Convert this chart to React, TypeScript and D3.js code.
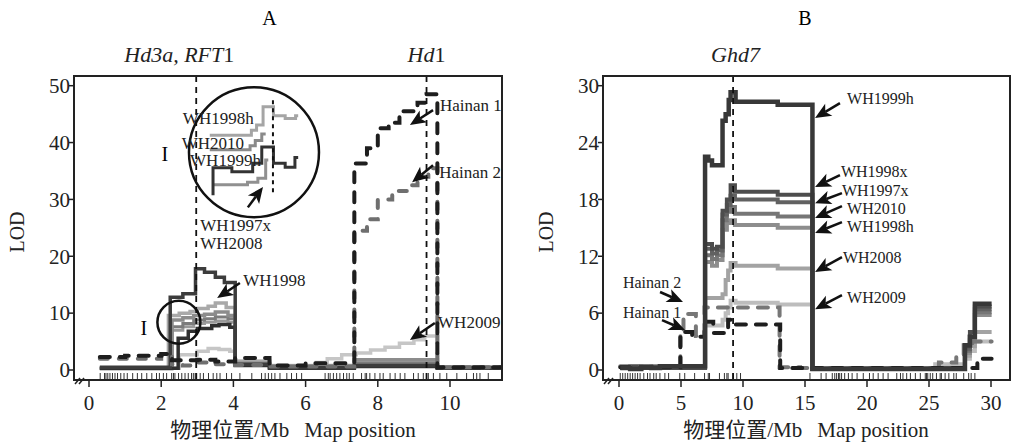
import React from "react";
import * as d3 from "d3";

const SERIF = "'Liberation Serif', 'Times New Roman', serif";
const CJK = "'Noto Sans CJK SC', sans-serif";

// ---------- panel A ----------
const aTicksX = [0, 2, 4, 6, 8, 10];
const aTicksY = [0, 10, 20, 30, 40, 50];
const aGenes = [2.97, 9.35];
const aMarkers = [
  0.31, 0.43, 0.47, 0.52, 0.58, 0.65, 0.72, 0.79, 0.88, 0.97, 1.06, 1.21, 1.34, 1.46, 1.6, 1.74,
  1.87, 1.95, 2.06, 2.15, 2.29, 2.34, 2.38, 2.48, 2.57, 2.66, 2.75, 2.84, 2.89, 2.94, 2.98, 3.08,
  3.17, 3.31, 3.44, 3.54, 3.63, 3.81, 3.95, 4.18, 4.51, 4.78, 4.88, 4.97, 5.06, 5.15, 5.29, 5.48,
  5.61, 5.75, 5.89, 6.54, 6.63, 6.68, 6.77, 6.86, 6.95, 7.05, 7.14, 7.21, 7.32, 7.55, 7.65, 7.69,
  7.78, 7.92, 8.06, 8.15, 8.34, 8.48, 8.62, 8.75, 8.99, 9.12, 9.26, 9.4, 9.54, 9.72, 9.91, 10.19,
  10.46, 10.65, 10.74, 10.83, 11.06,
];

const aWH1998X = [0.3, 2.25, 2.6, 2.95, 3.2, 3.5, 3.75, 4.05, 5.0, 7.35, 9.65, 11.6];
const aWH1998Y = [0.5, 12.8, 13.4, 17.8, 17.2, 16.3, 15.4, 1.0, 0.4, 0.8, 0.4, 0.4];
const aWH1998hX = [0.3, 2.2, 2.5, 2.8, 3.0, 3.3, 3.5, 3.8, 4.05, 5.0, 6.5, 7.35, 9.65, 11.6];
const aWH1998hY = [0.3, 9.6, 10.0, 10.3, 10.8, 11.2, 11.8, 11.0, 1.5, 0.7, 0.8, 1.5, 0.5, 0.5];
const aGrayX = [0.3, 2.3, 2.6, 2.9, 3.2, 3.5, 3.85, 4.05, 5.0, 7.35, 9.65, 11.6];
const aWH2010Y = [0.3, 8.8, 9.2, 9.6, 9.8, 10.2, 9.6, 1.2, 0.5, 1.8, 0.5, 0.5];
const aWH1997xY = [0.2, 7.6, 8.2, 8.8, 9.0, 9.3, 9.0, 1.0, 0.4, 1.2, 0.4, 0.4];
const aWH2008Y = [0.2, 7.0, 7.6, 8.2, 8.4, 8.6, 8.4, 0.9, 0.4, 1.0, 0.4, 0.4];
const aWH1999hX = [0.3, 2.47, 2.75, 3.0, 3.4, 3.6, 3.9, 4.05, 5.0, 7.35, 9.65, 11.6];
const aWH1999hY = [0.3, 5.6, 6.8, 7.3, 7.8, 8.0, 7.5, 0.8, 0.3, 0.6, 0.3, 0.3];
const aWH2009X = [0.3, 2.5, 3.0, 3.3, 3.6, 3.9, 4.05, 5.0, 6.3, 6.6, 7.0, 7.4, 7.8, 8.2, 8.6, 9.0, 9.3, 9.65, 11.6];
const aWH2009Y = [0.3, 2.7, 3.3, 3.8, 3.6, 3.3, 1.6, 0.8, 1.3, 2.0, 2.7, 3.0, 3.5, 4.0, 4.7, 5.3, 6.0, 0.5, 0.5];
const aHainan1X = [0.3, 1.0, 2.0, 2.3, 3.0, 3.5, 4.05, 5.0, 6.0, 7.35, 7.7, 8.0, 8.3, 8.6, 9.1, 9.35, 9.65, 11.6];
const aHainan1Y = [2.3, 2.5, 2.8, 1.7, 1.8, 1.5, 2.1, 0.8, 1.2, 36.3, 39.0, 42.5, 43.5, 45.5, 47.0, 48.5, 0.5, 0.5];
const aHainan2X = [0.3, 2.0, 2.3, 2.6, 3.0, 3.5, 4.05, 5.0, 7.35, 7.7, 8.0, 8.4, 8.9, 9.1, 9.4, 9.65, 11.6];
const aHainan2Y = [2.0, 2.5, 1.0, 0.8, 1.3, 1.0, 0.9, 0.6, 24.5, 26.5, 30.0, 31.5, 32.5, 34.0, 35.5, 0.5, 0.5];

// inset (zoom of region I), in its own 0..100 units
const insetLightX = [16, 48, 52, 57, 65, 74, 82, 84];
const insetLightY = [63, 67, 71, 85, 78, 76, 78, 78];
const insetMidX = [16, 47, 51, 56, 59];
const insetMidY = [52, 55, 59, 64, 64];
const insetDarkX = [18.5, 18.5, 33, 49, 56, 65, 74, 81.5, 84];
const insetDarkY = [17, 38, 35, 41.5, 54, 41.5, 38.5, 46, 46];
const insetLowX = [18.5, 45, 53, 59, 61];
const insetLowY = [25, 27, 30, 44, 44];

const aLabels = [
  { text: "WH1998h", x: 2.6, y: 44.3 },
  { text: "WH2010", x: 2.57, y: 39.9 },
  { text: "WH1999h", x: 2.8, y: 36.9 },
  { text: "WH1997x", x: 3.08, y: 25.5 },
  { text: "WH2008", x: 3.08, y: 22.3 },
  { text: "WH1998", x: 4.27, y: 15.8 },
  { text: "Hainan 1", x: 9.72, y: 46.6 },
  { text: "Hainan 2", x: 9.7, y: 34.9 },
  { text: "WH2009", x: 9.67, y: 8.4 },
];
const aArrows = [
  [4.18, 15.3, 3.55, 12.65],
  [9.53, 45.7, 8.89, 43.1],
  [9.53, 36.0, 8.95, 33.0],
  [9.58, 8.26, 8.89, 5.27],
  [4.4, 28.6, 4.82, 32.2],
];

// ---------- panel B ----------
const bTicksX = [0, 5, 10, 15, 20, 25, 30];
const bTicksY = [0, 6, 12, 18, 24, 30];
const bGenes = [9.2];
const bMarkers = [
  0.1, 0.3, 0.5, 0.7, 0.9, 1.1, 1.3, 1.5, 1.7, 2.0, 2.3, 2.5, 2.8, 3.0, 3.3, 3.7, 4.0, 4.9, 5.3,
  6.1, 6.9, 7.2, 7.3, 8.1, 8.5, 8.7, 8.8, 9.2, 9.5, 9.8, 15.4, 16.3, 16.7, 17.2, 17.4, 17.55, 17.7,
  17.8, 17.95, 18.2, 18.5, 18.8, 19.2, 19.7, 20.2, 20.5, 20.9, 21.3, 21.7, 22.4, 22.7, 22.9, 23.2,
  23.5, 23.9, 24.3, 24.7, 24.8, 24.9, 25.1, 25.3, 25.6, 25.9, 26.0, 26.3, 26.6, 27.0, 27.2, 27.8,
  28.2, 28.4, 28.7,
];

const bWH1999hX = [0.1, 0.9, 1.8, 2.6, 3.3, 6.94, 7.2, 7.5, 8.35, 8.6, 8.85, 9.0, 9.4, 12.8, 15.6, 16.5, 25.5, 27.9, 28.3, 28.7, 30.05];
const bWH1999hY = [0.2, 0.1, 0.3, 0.2, 0.4, 22.5, 22.1, 21.6, 26.3, 27.0, 28.5, 29.3, 28.3, 28.0, 0.1, 0.1, 0.1, 2.6, 3.5, 7.0, 7.0];
const bGrayX = [0.1, 0.9, 1.8, 2.6, 3.3, 6.94, 7.5, 7.9, 8.35, 8.7, 9.0, 9.35, 12.8, 15.6, 16.5, 25.5, 27.9, 28.3, 28.7, 30.05];
const bWH1998xY = [0.2, 0.4, 0.2, 0.3, 0.2, 13.3, 12.8, 13.0, 16.8, 18.0, 19.5, 18.8, 18.5, 0.1, 0.1, 0.2, 2.5, 4.0, 6.7, 6.7];
const bWH1997xY = [0.2, 0.3, 0.4, 0.2, 0.3, 12.8, 12.3, 12.6, 16.4, 17.4, 18.4, 18.0, 17.7, 0.1, 0.2, 0.1, 2.2, 3.5, 6.4, 6.4];
const bWH2010Y = [0.2, 0.2, 0.3, 0.4, 0.2, 12.1, 11.7, 12.1, 15.8, 16.7, 17.2, 16.5, 16.2, 0.1, 0.1, 0.2, 2.0, 3.2, 6.1, 6.1];
const bWH1998hY = [0.3, 0.2, 0.3, 0.2, 0.4, 11.4, 11.0, 11.6, 14.8, 15.5, 15.8, 15.3, 15.0, 0.1, 0.2, 0.1, 1.8, 3.0, 5.8, 5.8];
const bLowX = [0.1, 0.9, 1.8, 2.6, 3.3, 6.94, 8.35, 8.6, 8.8, 9.0, 9.4, 12.8, 15.6, 16.5, 25.5, 27.9, 28.3, 28.7, 30.05];
const bWH2008Y = [0.2, 0.3, 0.2, 0.3, 0.2, 7.6, 8.0, 9.5, 10.5, 11.3, 11.0, 10.7, 0.1, 0.2, 0.1, 1.5, 2.5, 4.0, 4.0];
const bWH2009Y = [0.2, 0.2, 0.3, 0.2, 0.3, 4.7, 5.3, 6.0, 6.6, 7.3, 7.1, 6.9, 0.1, 0.1, 0.6, 1.2, 2.0, 3.0, 3.0];
const bHainan1X = [0.1, 4.95, 5.9, 6.9, 7.6, 8.8, 9.4, 13.0, 14.6, 28.9, 30.05];
const bHainan1Y = [0.3, 4.0, 3.5, 5.1, 3.9, 5.3, 4.8, 0.2, 0.2, 1.2, 1.2];
const bHainan2X = [0.1, 4.95, 5.2, 6.2, 6.9, 9.2, 12.95, 14.6, 25.8, 27.2, 27.8, 28.5, 30.05];
const bHainan2Y = [0.4, 4.0, 5.9, 3.6, 6.6, 6.6, 0.3, 0.2, 0.8, 1.4, 2.6, 3.0, 3.0];

const bLabels = [
  { text: "WH1999h", x: 18.39, y: 28.69 },
  { text: "WH1998x", x: 17.9, y: 20.95 },
  { text: "WH1997x", x: 17.98, y: 19.0 },
  { text: "WH2010", x: 18.39, y: 17.08 },
  { text: "WH1998h", x: 18.39, y: 15.15 },
  { text: "WH2008", x: 18.06, y: 11.92 },
  { text: "WH2009", x: 18.39, y: 7.7 },
  { text: "Hainan 2", x: 0.32, y: 9.28 },
  { text: "Hainan 1", x: 0.32, y: 6.12 },
];
const bArrows = [
  [17.82, 28.16, 15.81, 26.58],
  [17.82, 20.57, 15.81, 19.3],
  [17.98, 18.67, 15.81, 17.6],
  [17.98, 17.3, 15.81, 16.03],
  [17.98, 15.61, 15.81, 14.45],
  [17.98, 11.92, 15.81, 10.34],
  [17.98, 7.91, 15.81, 6.4],
  [3.31, 8.23, 5.16, 7.17],
  [3.47, 5.27, 5.32, 4.22],
];

const zip = (xs: number[], ys: number[]) => xs.map((v, i) => [v, ys[i]] as [number, number]);

const seriesA = [
  { d: zip(aWH2009X, aWH2009Y), color: "#c6c6c6", w: 3.5 },
  { d: zip(aWH1998hX, aWH1998hY), color: "#a9a9a9", w: 3.5 },
  { d: zip(aGrayX, aWH2008Y), color: "#9a9a9a", w: 3 },
  { d: zip(aGrayX, aWH1997xY), color: "#7c7c7c", w: 3 },
  { d: zip(aGrayX, aWH2010Y), color: "#8c8c8c", w: 3.5 },
  { d: zip(aWH1999hX, aWH1999hY), color: "#303030", w: 3.5 },
  { d: zip(aWH1998X, aWH1998Y), color: "#3c3c3c", w: 3.5 },
  { d: zip(aHainan2X, aHainan2Y), color: "#6f6f6f", w: 4, dash: "8,11" },
  { d: zip(aHainan1X, aHainan1Y), color: "#1e1e1e", w: 4, dash: "10,10" },
];
const seriesB = [
  { d: zip(bLowX, bWH2009Y), color: "#bdbdbd", w: 4 },
  { d: zip(bLowX, bWH2008Y), color: "#a3a3a3", w: 4 },
  { d: zip(bGrayX, bWH1998hY), color: "#8d8d8d", w: 4 },
  { d: zip(bGrayX, bWH2010Y), color: "#767676", w: 4 },
  { d: zip(bGrayX, bWH1997xY), color: "#616161", w: 4 },
  { d: zip(bGrayX, bWH1998xY), color: "#4d4d4d", w: 4 },
  { d: zip(bHainan2X, bHainan2Y), color: "#777777", w: 4, dash: "10,10" },
  { d: zip(bHainan1X, bHainan1Y), color: "#1e1e1e", w: 4, dash: "10,10" },
  { d: zip(bWH1999hX, bWH1999hY), color: "#383838", w: 4.5 },
];

function Arrow({ x1, y1, x2, y2 }: { x1: number; y1: number; x2: number; y2: number }) {
  const len = Math.hypot(x2 - x1, y2 - y1);
  const ux = (x2 - x1) / len, uy = (y2 - y1) / len;
  const hl = 16, hw = 7;
  const bx = x2 - ux * hl, by = y2 - uy * hl;
  const nx = bx + ux * 4, ny = by + uy * 4;
  const px = -uy, py = ux;
  return (
    <g>
      <line x1={x1} y1={y1} x2={nx} y2={ny} stroke="#111" strokeWidth={2.5} />
      <polygon
        points={`${x2},${y2} ${bx + px * hw},${by + py * hw} ${nx},${ny} ${bx - px * hw},${by - py * hw}`}
        fill="#111"
      />
    </g>
  );
}

type PanelProps = {
  id: string;
  box: { l: number; r: number; t: number; b: number };
  x: d3.ScaleLinear<number, number>;
  y: d3.ScaleLinear<number, number>;
  ticksX: number[];
  ticksY: number[];
  markers: number[];
  genes: number[];
  series: { d: [number, number][]; color: string; w: number; dash?: string }[];
  labels: { text: string; x: number; y: number }[];
  labelSize: number;
  arrows: number[][];
  title: string;
  xLabelAt: number;
  children?: React.ReactNode;
};

function Panel(p: PanelProps) {
  const { box, x, y } = p;
  const line = d3
    .line<[number, number]>()
    .x((d) => x(d[0]))
    .y((d) => y(d[1]))
    .curve(d3.curveStepAfter);
  return (
    <g fontFamily={SERIF}>
      <defs>
        <clipPath id={`clip${p.id}`}>
          <rect x={box.l} y={box.t} width={box.r - box.l} height={box.b - box.t} />
        </clipPath>
      </defs>
      <text x={x(p.id === "A" ? 5 : 15)} y={25} fontSize={20} textAnchor="middle">
        {p.title}
      </text>
      {/* rug of markers */}
      {p.markers.map((m, i) => (
        <line key={i} x1={x(m)} x2={x(m)} y1={box.b - 7} y2={box.b} stroke="#333" strokeWidth={1} />
      ))}
      <g clipPath={`url(#clip${p.id})`}>
        {p.series.map((s, i) => (
          <path
            key={i}
            d={line(s.d) || ""}
            fill="none"
            stroke={s.color}
            strokeWidth={s.w}
            strokeDasharray={s.dash}
            strokeLinecap={s.dash ? "round" : "butt"}
          />
        ))}
        {p.genes.map((g, i) => (
          <line key={i} x1={x(g)} x2={x(g)} y1={box.t} y2={box.b} stroke="#111" strokeWidth={1.8} strokeDasharray="6,5" />
        ))}
      </g>
      {p.children}
      {/* frame */}
      <rect x={box.l} y={box.t} width={box.r - box.l} height={box.b - box.t} fill="none" stroke="#222" strokeWidth={2} />
      {/* axis break */}
      <line x1={box.l + 1} y1={box.b + 4} x2={box.l + 6} y2={box.b - 2} stroke="#222" strokeWidth={1.5} />
      <line x1={box.l + 5} y1={box.b + 4} x2={box.l + 10} y2={box.b - 2} stroke="#222" strokeWidth={1.5} />
      {p.ticksY.map((t) => (
        <g key={t}>
          <line x1={box.l - 5} x2={box.l} y1={y(t)} y2={y(t)} stroke="#222" strokeWidth={1.5} />
          <text x={box.l - 4} y={y(t)} dy="0.35em" fontSize={21} textAnchor="end" fill="#222">
            {t}
          </text>
        </g>
      ))}
      {p.ticksX.map((t) => (
        <g key={t}>
          <line x1={x(t)} x2={x(t)} y1={box.b} y2={box.b + 7} stroke="#222" strokeWidth={1.5} />
          <text x={x(t)} y={box.b + 30} fontSize={21} textAnchor="middle" fill="#222">
            {t}
          </text>
        </g>
      ))}
      <text
        transform={`translate(${box.l - 50},${(box.t + box.b) / 2 + 4}) rotate(-90)`}
        fontSize={20}
        textAnchor="middle"
        fill="#222"
      >
        LOD
      </text>
      <text x={p.xLabelAt} y={437} fontSize={21} textAnchor="middle" fill="#222">
        <tspan fontFamily={CJK}>物理位置</tspan>
        <tspan>/Mb</tspan>
        <tspan dx={15}>Map position</tspan>
      </text>
      {p.labels.map((l, i) => (
        <text key={i} x={x(l.x)} y={y(l.y)} dy="0.35em" fontSize={p.labelSize} fill="#222">
          {l.text}
        </text>
      ))}
      {p.arrows.map((a, i) => (
        <Arrow key={i} x1={x(a[0])} y1={y(a[1])} x2={x(a[2])} y2={y(a[3])} />
      ))}
    </g>
  );
}

export default function App() {
  const xA = d3.scaleLinear().domain([0, 10]).range([89, 450]);
  const yA = d3.scaleLinear().domain([0, 50]).range([370, 85.7]);
  const xB = d3.scaleLinear().domain([0, 30]).range([619, 991]);
  const yB = d3.scaleLinear().domain([0, 30]).range([370, 85.7]);

  // inset circle around region I (panel A)
  const icx = xA(4.57), icy = yA(38.3), ir = 65;
  const ix = d3.scaleLinear().domain([0, 100]).range([icx - ir, icx + ir]);
  const iy = d3.scaleLinear().domain([0, 100]).range([icy + ir, icy - ir]);
  const iline = d3
    .line<[number, number]>()
    .x((d) => ix(d[0]))
    .y((d) => iy(d[1]))
    .curve(d3.curveStepAfter);
  const insetSeries = [
    { d: zip(insetLightX, insetLightY), color: "#a5a5a5" },
    { d: zip(insetMidX, insetMidY), color: "#8a8a8a" },
    { d: zip(insetLowX, insetLowY), color: "#909090" },
    { d: zip(insetDarkX, insetDarkY), color: "#333" },
  ];

  return (
    <svg
      width={1011}
      height={444}
      style={{ position: "absolute", left: 0, top: 0, background: "#fff" }}
    >
      <rect width={1011} height={444} fill="#fff" />
      <Panel
        id="A"
        box={{ l: 74, r: 502, t: 76, b: 380 }}
        x={xA}
        y={yA}
        ticksX={aTicksX}
        ticksY={aTicksY}
        markers={aMarkers}
        genes={aGenes}
        series={seriesA}
        labels={aLabels}
        labelSize={17}
        arrows={aArrows}
        title="A"
        xLabelAt={293}
      >
        {insetSeries.map((s, i) => (
          <path key={i} d={iline(s.d) || ""} fill="none" stroke={s.color} strokeWidth={3} />
        ))}
        <line x1={ix(64.6)} x2={ix(64.6)} y1={iy(90)} y2={iy(17)} stroke="#111" strokeWidth={2} strokeDasharray="4,4" />
        <circle cx={icx} cy={icy} r={ir} fill="none" stroke="#111" strokeWidth={2.5} />
        <circle cx={xA(2.49)} cy={yA(8.4)} r={21.5} fill="none" stroke="#111" strokeWidth={2.5} />
        <text x={xA(2.1)} y={yA(38.0)} dy="0.35em" fontSize={20} textAnchor="middle" fontFamily={SERIF}>I</text>
        <text x={xA(1.52)} y={yA(7.4)} dy="0.35em" fontSize={20} textAnchor="middle" fontFamily={SERIF}>I</text>
      </Panel>
      <Panel
        id="B"
        box={{ l: 603, r: 1010, t: 76, b: 380 }}
        x={xB}
        y={yB}
        ticksX={bTicksX}
        ticksY={bTicksY}
        markers={bMarkers}
        genes={bGenes}
        series={seriesB}
        labels={bLabels}
        labelSize={16}
        arrows={bArrows}
        title="B"
        xLabelAt={806}
      />
      {/* gene names above the panels */}
      <text x={xA(2.5)} y={62} fontSize={22} textAnchor="middle" fontFamily={SERIF} fill="#222">
        <tspan fontStyle="italic">Hd3a, RFT</tspan>
        <tspan>1</tspan>
      </text>
      <text x={xA(9.35)} y={62} fontSize={22} textAnchor="middle" fontFamily={SERIF} fill="#222">
        <tspan fontStyle="italic">Hd</tspan>
        <tspan>1</tspan>
      </text>
      <text x={xB(9.4)} y={62} fontSize={22} textAnchor="middle" fontFamily={SERIF} fontStyle="italic" fill="#222">
        Ghd7
      </text>
    </svg>
  );
}
